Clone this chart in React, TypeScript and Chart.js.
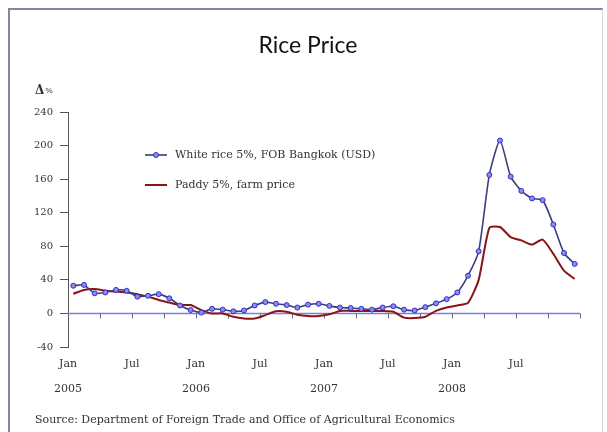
import React, { useEffect, useRef } from 'react';
import { Chart, registerables } from 'chart.js';

Chart.register(...registerables);

// ---- data ----
const years = ['2005', '2006', '2007', '2008'];
const monthNames = ['Jan', 'Feb', 'Mar', 'Apr', 'May', 'Jun', 'Jul', 'Aug', 'Sep', 'Oct', 'Nov', 'Dec'];
const categories = years.flatMap((yr) => monthNames.map((m) => `${m} ${yr}`));

const whiteRice = [
  33, 34, 24, 25, 28, 27, 20, 21, 23, 18, 9.5, 4,
  1, 5.5, 4.5, 2.5, 3.5, 9.5, 13.5, 11.5, 10, 7, 10.5, 11.5,
  9, 7, 6.5, 5.5, 4.5, 7, 8.5, 4.5, 3.5, 7.5, 12, 17,
  25, 45, 74, 165, 206, 163, 146, 137, 135, 106, 72, 59,
];
const paddy = [
  23.5, 28, 29, 27, 26, 25, 23, 20, 16, 13, 10, 10,
  4, 0, 0, -4, -6, -6, -2, 2.5, 2, -1.5, -3, -3,
  -1, 3, 3, 3, 3, 3, 2, -5, -5.5, -4, 3, 7,
  9.5, 12.5, 40, 102, 103, 91, 87, 82, 88, 71, 51, 41,
];
const seriesNames = ['White rice 5%, FOB Bangkok (USD)', 'Paddy 5%, farm price'];
const yMin = -40;
const yMax = 240;
const yStep = 40;
const xTickStep = 3;
const xLabelMonths: Record<number, string> = { 0: 'Jan', 6: 'Jul' };
const titleText = 'Rice Price';
const unitText = ['Δ', '%'];
const sourceText = 'Source: Department of Foreign Trade and Office of Agricultural Economics';

const TEXT = '#333333';
const SERIF = "'DejaVu Serif', serif";

const decor = {
  id: 'decor',
  beforeDatasetsDraw(chart: any) {
    const { ctx, chartArea, scales } = chart;
    const x = scales.x;
    const y = scales.y;
    const y0 = Math.round(y.getPixelForValue(0)) + 0.5;
    ctx.save();
    ctx.strokeStyle = '#7c7ce6';
    ctx.lineWidth = 1.3;
    ctx.beginPath();
    ctx.moveTo(chartArea.left, y0);
    ctx.lineTo(chartArea.right, y0);
    ctx.stroke();
    ctx.strokeStyle = '#6a6a7a';
    ctx.lineWidth = 1;
    x.ticks.forEach((t: any) => {
      if (t.value === 0) return;
      const px = Math.round(x.getPixelForValue(t.value)) + 0.5;
      ctx.beginPath();
      ctx.moveTo(px, y0);
      ctx.lineTo(px, y0 + 5);
      ctx.stroke();
    });
    ctx.restore();
  },
  afterDraw(chart: any) {
    const { ctx } = chart;
    ctx.save();
    // title
    ctx.fillStyle = '#111111';
    ctx.font = "23px Lato, 'Open Sans', sans-serif";
    ctx.textAlign = 'center';
    ctx.textBaseline = 'alphabetic';
    ctx.fillText(titleText, 298, 43);
    // unit label
    ctx.textAlign = 'left';
    ctx.textBaseline = 'alphabetic';
    ctx.fillStyle = TEXT;
    ctx.font = `bold 12px ${SERIF}`;
    ctx.fillText(unitText[0], 25, 84);
    const dw = ctx.measureText(unitText[0]).width;
    ctx.font = `8px ${SERIF}`;
    ctx.fillText(unitText[1], 25 + dw + 1, 83);
    // legend
    const items = chart.data.datasets;
    items.forEach((ds: any, i: number) => {
      const ly = 145 + i * 30;
      ctx.strokeStyle = ds.borderColor;
      ctx.lineWidth = ds.borderWidth;
      ctx.beginPath();
      ctx.moveTo(135, ly);
      ctx.lineTo(157, ly);
      ctx.stroke();
      if (ds.pointRadius > 0) {
        ctx.beginPath();
        ctx.arc(146, ly, ds.pointRadius, 0, Math.PI * 2);
        ctx.fillStyle = ds.pointBackgroundColor;
        ctx.fill();
        ctx.lineWidth = ds.pointBorderWidth;
        ctx.strokeStyle = ds.pointBorderColor;
        ctx.stroke();
      }
      ctx.fillStyle = TEXT;
      ctx.font = `11px ${SERIF}`;
      ctx.textBaseline = 'middle';
      ctx.fillText(ds.label, 165, ly);
    });
    // source
    ctx.fillStyle = TEXT;
    ctx.font = `11px ${SERIF}`;
    ctx.textBaseline = 'middle';
    ctx.fillText(sourceText, 25, 410);
    ctx.restore();
  },
};

export default function App() {
  const ref = useRef<HTMLCanvasElement | null>(null);

  useEffect(() => {
    if (!ref.current) return;
    const toPoints = (arr: number[]) => arr.map((v, i) => ({ x: i + 0.5, y: v, c: categories[i] }));
    const chart = new Chart(ref.current, {
      type: 'line',
      data: {
        datasets: [
          {
            label: seriesNames[0],
            data: toPoints(whiteRice),
            borderColor: '#3a3f7c',
            borderWidth: 1.6,
            pointRadius: 2.5,
            pointBorderWidth: 1,
            pointBorderColor: '#2f2fcc',
            pointBackgroundColor: '#8c8cec',
            tension: 0.2,
            fill: false,
          },
          {
            label: seriesNames[1],
            data: toPoints(paddy),
            borderColor: '#8a1414',
            borderWidth: 2,
            pointRadius: 0,
            pointBorderWidth: 0,
            pointBorderColor: '#8a1414',
            pointBackgroundColor: '#8a1414',
            tension: 0.2,
            fill: false,
          },
        ],
      },
      options: {
        animation: false,
        responsive: false,
        devicePixelRatio: 1,
        parsing: { xAxisKey: 'x', yAxisKey: 'y' },
        layout: { padding: { left: 18, right: 22, top: 102, bottom: 35 } },
        plugins: {
          legend: { display: false },
          title: { display: false },
          tooltip: { enabled: false },
        },
        scales: {
          x: {
            type: 'linear',
            min: 0,
            max: categories.length,
            grid: { display: false, drawTicks: false },
            border: { display: false },
            afterFit: (s: any) => {
              s.height = 50;
            },
            ticks: {
              stepSize: xTickStep,
              autoSkip: false,
              maxRotation: 0,
              minRotation: 0,
              padding: 5,
              color: TEXT,
              font: { family: SERIF, size: 11, lineHeight: '25px' as any },
              callback: (value: any) => {
                const v = Number(value);
                if (v >= categories.length) return '';
                const m = v % 12;
                const name = xLabelMonths[m];
                if (!name) return '';
                if (m === 0) return [name, years[v / 12]];
                return name;
              },
            },
          },
          y: {
            min: yMin,
            max: yMax,
            afterFit: (s: any) => {
              s.width = 40;
            },
            grid: {
              display: true,
              drawOnChartArea: false,
              drawTicks: true,
              tickLength: 8,
              color: '#555555',
            },
            border: { display: true, color: '#555555', width: 1 },
            ticks: {
              stepSize: yStep,
              padding: 7,
              color: TEXT,
              font: { family: SERIF, size: 10 },
            },
          },
        },
      } as any,
      plugins: [decor],
    });
    return () => chart.destroy();
  }, []);

  return (
    <div
      style={{
        position: 'absolute',
        left: 8,
        top: 8,
        width: 595,
        height: 424,
        boxSizing: 'border-box',
        borderTop: '2px solid #7d87a2',
        borderLeft: '2px solid #7d87a2',
        borderRight: '1px solid #d4d8e2',
        overflow: 'hidden',
        background: '#ffffff',
      }}
    >
      <canvas ref={ref} width={592} height={422} style={{ display: 'block' }} />
    </div>
  );
}
